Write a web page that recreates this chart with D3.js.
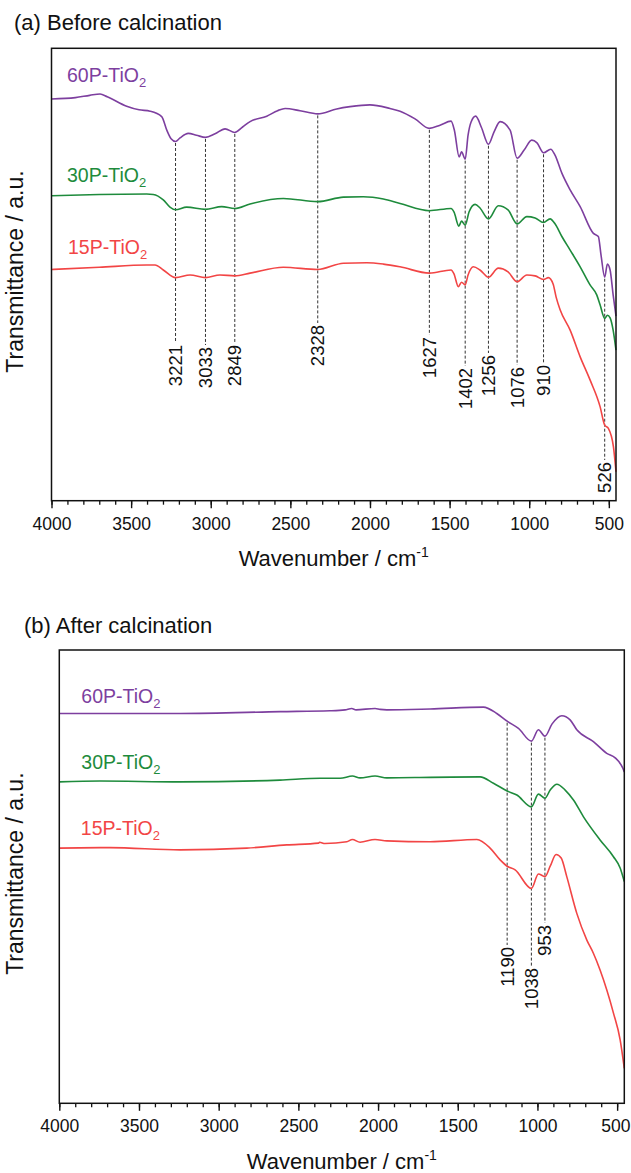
<!DOCTYPE html>
<html>
<head>
<meta charset="utf-8">
<script src="https://cdn.jsdelivr.net/npm/d3@7"></script>
<style>
  html, body { margin: 0; padding: 0; background: #fff; }
  svg { display: block; font-family: "Liberation Sans", Arial, Helvetica, sans-serif; }
</style>
</head>
<body>
<svg id="fig" width="631" height="1173"></svg>
<script>
// ---- axis definition (wavenumber, cm^-1) ----
const wnDomain = [4000, 455];
const majorTicks = [4000, 3500, 3000, 2500, 2000, 1500, 1000, 500];
const minorTicks = d3.range(4000, 455, -100);

// ---- sample names and colours ----
const sampleNames = ["60P-TiO", "30P-TiO", "15P-TiO"];
const sampleColors = ["#7d3f9f", "#1e8b3c", "#f24545"];

// ---- FT-IR spectra before calcination: [wavenumber, transmittance (a.u.)] ----
const beforeP60 = [[4000,88.8],[3850,89.1],[3760,89.6],[3695,89.9],[3650,89.3],[3528,87.2],[3450,86.4],[3381,86.1],[3308,84.9],[3276,81.9],[3249,80.0],[3221,79.4],[3193,80.2],[3141,81.2],[3090,80.8],[3033,80.3],[2973,81.1],[2910,82.2],[2849,81.4],[2800,82.6],[2753,83.8],[2648,85.0],[2580,86.2],[2533,86.7],[2439,86.2],[2328,85.5],[2209,86.6],[2125,87.1],[2000,87.5],[1874,86.7],[1811,86.1],[1717,84.4],[1627,82.3],[1560,83.0],[1491,83.9],[1470,81.9],[1440,76.0],[1425,77.1],[1402,75.5],[1384,80.8],[1365,83.7],[1336,85.0],[1300,82.5],[1256,78.8],[1220,81.6],[1183,83.8],[1120,81.9],[1076,75.7],[1032,77.5],[984,79.7],[951,79.1],[910,76.9],[865,77.7],[838,76.4],[795,72.4],[743,68.7],[680,65.0],[597,59.1],[566,58.4],[549,54.3],[526,49.4],[509,52.3],[492,51.0],[473,45.5],[455,40.8]];
const beforeP30 = [[4000,67.4],[3700,67.7],[3402,67.8],[3361,67.7],[3298,66.5],[3256,64.9],[3221,64.3],[3151,64.9],[3033,64.4],[2931,65.0],[2849,64.6],[2753,65.6],[2544,66.8],[2328,66.1],[2167,67.1],[2042,67.2],[1916,66.7],[1811,65.7],[1627,64.1],[1491,64.6],[1472,63.8],[1442,60.7],[1425,61.8],[1402,60.9],[1378,63.8],[1340,65.5],[1309,64.7],[1256,62.3],[1194,65.2],[1133,64.3],[1076,61.2],[1015,62.8],[963,62.5],[910,61.5],[869,62.3],[838,61.2],[795,58.4],[743,55.4],[680,51.7],[618,47.7],[576,45.5],[555,43.3],[526,40.3],[509,41.0],[492,40.4],[473,37.7],[455,33.3]];
const beforeP15 = [[4000,51.1],[3700,51.6],[3402,52.1],[3350,52.1],[3298,51.0],[3221,49.3],[3130,49.9],[3033,49.3],[2942,49.9],[2849,49.7],[2753,50.3],[2544,51.6],[2328,51.1],[2167,52.5],[2020,52.6],[1916,52.3],[1811,51.7],[1627,50.3],[1491,51.0],[1472,50.1],[1445,47.3],[1425,48.3],[1402,47.7],[1384,49.9],[1351,51.7],[1309,51.0],[1256,49.4],[1194,51.4],[1133,50.6],[1076,48.4],[1015,49.9],[963,49.7],[910,48.9],[880,49.3],[850,47.9],[831,45.0],[806,42.2],[743,37.7],[680,31.8],[618,26.7],[555,20.8],[526,16.7],[503,16.0],[471,11.9],[455,6.4]];

// ---- FT-IR spectra after calcination ----
const afterP60 = [[4000,86.0],[3600,86.0],[3242,86.0],[2615,86.4],[2301,86.6],[2207,86.8],[2165,87.1],[2138,86.8],[2019,87.1],[1987,86.9],[1945,86.8],[1673,87.0],[1339,87.4],[1255,86.0],[1190,84.3],[1119,82.7],[1038,79.9],[994,82.4],[953,81.0],[908,83.7],[847,85.5],[795,84.6],[753,82.4],[649,79.8],[565,77.2],[512,76.2],[464,73.9],[455,73.1]];
const afterP30 = [[4000,70.9],[3745,71.1],[3242,70.9],[2615,71.3],[2364,71.7],[2238,71.7],[2161,72.2],[2113,71.8],[2019,72.2],[1945,71.8],[1673,71.9],[1360,72.0],[1276,70.6],[1190,68.9],[1129,68.0],[1038,65.4],[994,68.2],[953,67.3],[920,69.1],[878,70.4],[826,69.1],[774,66.9],[711,63.2],[607,58.1],[523,54.4],[481,51.9],[455,48.9]];
const afterP15 = [[4000,56.3],[3682,56.4],[3242,55.9],[2824,56.3],[2573,57.0],[2374,57.4],[2367,57.6],[2333,57.3],[2196,57.7],[2161,58.2],[2113,57.6],[2019,58.2],[1945,57.9],[1673,57.7],[1380,58.2],[1297,56.3],[1234,53.7],[1190,52.3],[1140,51.5],[1038,47.4],[994,50.6],[953,50.0],[920,52.3],[883,54.9],[851,54.1],[816,50.0],[753,41.9],[690,36.0],[649,33.1],[607,29.4],[523,19.9],[481,14.0],[455,7.7]];

// ---- assigned band positions ----
const peaksBefore = [3221, 3033, 2849, 2328, 1627, 1402, 1256, 1076, 910, 526];
const peaksAfter = [1190, 1038, 953];

// ---- layout ----
const svgWidth = 631;
const svg = d3.select("#fig");
const panels = [
  {
    title: "(a) Before calcination", titleX: 14, titleY: 30,
    box: { left: 51.5, right: 616, top: 48.3, bottom: 500.7 },
    series: [beforeP60, beforeP30, beforeP15],
    labelPos: [[15.5, 33.4], [15.5, 134], [16.5, 205.7]],
    peaks: peaksBefore,
    peakLabelTop: [296.7, 298.7, 296.7, 276.7, 288.7, 319.7, 306.7, 318.7, 316.7, 413.7]
  },
  {
    title: "(b) After calcination", titleX: 24, titleY: 633,
    box: { left: 59.3, right: 624.3, top: 650, bottom: 1103.3 },
    series: [afterP60, afterP30, afterP15],
    labelPos: [[22, 53.3], [22, 119.3], [21.5, 185]],
    peaks: peaksAfter,
    peakLabelTop: [297, 318, 275]
  }
];

function valueAt(series, wn) {
  for (let i = 0; i < series.length - 1; i++) {
    const [w0, v0] = series[i], [w1, v1] = series[i + 1];
    if (wn <= w0 && wn >= w1) return v0 + (v1 - v0) * (w0 - wn) / (w0 - w1);
  }
  return series[series.length - 1][1];
}

panels.forEach(p => {
  const b = p.box;
  const x = d3.scaleLinear().domain(wnDomain).range([b.left, b.right]);
  const y = d3.scaleLinear().domain([0, 100]).range([b.bottom, b.top]);
  const g = svg.append("g");

  // panel title
  g.append("text").attr("x", p.titleX).attr("y", p.titleY)
    .attr("font-size", 22).attr("fill", "#111").text(p.title);

  // annotation guides (drawn first so the spectra sit on top)
  p.peaks.forEach((wn, i) => {
    const px = x(wn);
    const yTop = y(valueAt(p.series[0], wn)) + 1.5;
    const yLab = b.top + p.peakLabelTop[i];
    g.append("line")
      .attr("x1", px).attr("x2", px).attr("y1", yTop).attr("y2", yLab - 2)
      .attr("stroke", "#333").attr("stroke-width", 1)
      .attr("stroke-dasharray", "3,2");
    g.append("text")
      .attr("transform", `translate(${px},${yLab}) rotate(-90)`)
      .attr("text-anchor", "end").attr("dy", "0.35em")
      .attr("font-size", 18.5).attr("fill", "#111")
      .text(wn);
  });

  // spectra
  const line = d3.line()
    .x(d => x(d[0])).y(d => y(d[1]))
    .curve(d3.curveMonotoneX);
  p.series.forEach((s, i) => {
    g.append("path").datum(s)
      .attr("d", line)
      .attr("fill", "none")
      .attr("stroke", sampleColors[i])
      .attr("stroke-width", 1.6)
      .attr("stroke-linejoin", "round");
  });

  // sample labels with subscript
  sampleNames.forEach((name, i) => {
    const t = g.append("text")
      .attr("x", b.left + p.labelPos[i][0])
      .attr("y", b.top + p.labelPos[i][1])
      .attr("font-size", 19.5).attr("fill", sampleColors[i]);
    t.append("tspan").text(name);
    t.append("tspan").attr("font-size", 13).attr("dy", 5).text("2");
  });

  // x axis: major and minor ticks
  const axG = g.append("g").attr("transform", `translate(0,${b.bottom})`);
  axG.call(d3.axisBottom(x).tickValues(minorTicks).tickSize(4).tickFormat(""))
    .call(a => a.select(".domain").remove())
    .call(a => a.selectAll("line").attr("stroke", "#111").attr("stroke-width", 1.3));
  const axM = g.append("g").attr("transform", `translate(0,${b.bottom})`);
  axM.call(d3.axisBottom(x).tickValues(majorTicks).tickSize(7.5).tickPadding(9).tickFormat(d3.format("d")))
    .call(a => a.select(".domain").remove())
    .call(a => a.selectAll("line").attr("stroke", "#111").attr("stroke-width", 1.4))
    .call(a => a.selectAll("text").attr("font-size", 17.5)
      .attr("font-family", "'Liberation Sans', Arial, sans-serif").attr("fill", "#111"));
  // keep the rightmost tick label inside the page
  axM.selectAll(".tick text").each(function (d) {
    const w = this.getComputedTextLength();
    const over = x(d) + w / 2 - (svgWidth - 1);
    if (over > 0) d3.select(this).attr("dx", -over);
  });

  // frame
  g.append("rect")
    .attr("x", b.left).attr("y", b.top)
    .attr("width", b.right - b.left).attr("height", b.bottom - b.top)
    .attr("fill", "none").attr("stroke", "#111").attr("stroke-width", 1.5);

  // axis titles
  const xt = g.append("text")
    .attr("x", (b.left + b.right) / 2).attr("y", b.bottom + 65.5)
    .attr("text-anchor", "middle").attr("font-size", 22).attr("fill", "#111");
  xt.append("tspan").text("Wavenumber / cm");
  xt.append("tspan").attr("font-size", 14).attr("dy", -9).text("-1");

  g.append("text")
    .attr("transform", `translate(23,${(b.top + b.bottom) / 2 - 3}) rotate(-90)`)
    .attr("text-anchor", "middle").attr("font-size", 23).attr("fill", "#111")
    .text("Transmittance / a.u.");
});
</script>
</body>
</html>
